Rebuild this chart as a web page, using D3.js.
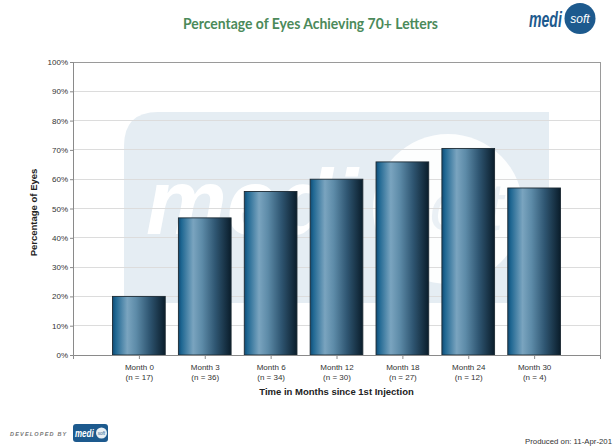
<!DOCTYPE html>
<html>
<head>
<meta charset="utf-8">
<script src="https://cdn.jsdelivr.net/npm/d3@7"></script>
<style>
  html, body { margin: 0; padding: 0; background: #fff; }
  svg { display: block; }
</style>
</head>
<body>
<svg id="chart" width="614" height="446"></svg>
<script>
// Data
const months = ["Month 0", "Month 3", "Month 6", "Month 12", "Month 18", "Month 24", "Month 30"];
const counts = [17, 36, 34, 30, 27, 12, 4];
const percentages = [20, 46.8, 55.8, 60, 65.9, 70.5, 57];
const yTicks = [0, 10, 20, 30, 40, 50, 60, 70, 80, 90, 100];

const titleText = "Percentage of Eyes Achieving 70+ Letters";
const yTitle = "Percentage of Eyes";
const xTitle = "Time in Months since 1st Injection";
const producedText = "Produced on: 11-Apr-201";

const svg = d3.select("#chart");
const plot = { left: 73, right: 600, top: 62, bottom: 355 };
const sans = "'Liberation Sans', Arial, sans-serif";

const x = d3.scalePoint().domain(months).range([plot.left, plot.right]).padding(1);
const y = d3.scaleLinear().domain([0, 100]).range([plot.bottom, plot.top]);
const barW = x.step() * 0.8;

// Gradient for the cylinder-like bars
const defs = svg.append("defs");
const grad = defs.append("linearGradient").attr("id", "barGrad")
  .attr("x1", "0%").attr("x2", "100%").attr("y1", "0%").attr("y2", "0%");
[
  [0, "#0f4a74"], [0.06, "#1f6792"], [0.28, "#7aa4bf"], [0.45, "#5d8ba8"],
  [0.7, "#2f5672"], [1, "#0a1d2b"]
].forEach(([o, c]) => grad.append("stop").attr("offset", o).attr("stop-color", c));

// Title
svg.append("text")
  .attr("x", 183).attr("y", 28.5)
  .attr("font-family", "Lato, 'Open Sans', sans-serif")
  .attr("font-weight", "bold")
  .attr("font-size", 15)
  .attr("textLength", 255).attr("lengthAdjust", "spacingAndGlyphs")
  .attr("fill", "#4b8a5a")
  .text(titleText);

// Logo: "medi" squeezed horizontally, then a filled circle holding "soft"
function logo(g, o) {
  g.append("g")
    .attr("transform", `translate(${o.x},${o.y}) scale(${o.sx},1)`)
    .append("text")
    .attr("x", 0).attr("y", 0)
    .attr("font-family", sans).attr("font-weight", "bold").attr("font-style", "italic")
    .attr("font-size", o.size).attr("fill", o.textFill)
    .text("medi");
  g.append("circle")
    .attr("cx", o.cx).attr("cy", o.cy).attr("r", o.r)
    .attr("fill", o.circleFill).attr("opacity", o.circleOpacity || 1);
  g.append("text")
    .attr("x", o.cx).attr("y", o.cy + o.r * 0.28)
    .attr("text-anchor", "middle")
    .attr("font-family", sans).attr("font-style", "italic")
    .attr("font-size", o.softSize).attr("fill", o.softFill)
    .text("soft");
}

// Top-right logo
logo(svg.append("g"), {
  x: 529, y: 27, size: 22, sx: 0.64, textFill: "#1d5a8e",
  cx: 580, cy: 18.5, r: 15.5, circleFill: "#1d5a8e", softFill: "#ffffff", softSize: 12
});

// Watermark behind the plot
const wm = svg.append("g");
const wx0 = 124, wx1 = 549, wy0 = 112, wy1 = 303, rad = 34;
wm.append("path")
  .attr("d", `M${wx0},${wy1} L${wx0},${wy0 + rad} Q${wx0},${wy0} ${wx0 + rad},${wy0} L${wx1},${wy0} L${wx1},${wy1} Z`)
  .attr("fill", "#e5edf3");
wm.append("text")
  .attr("x", 146).attr("y", 234)
  .attr("font-family", sans).attr("font-weight", "bold").attr("font-style", "italic")
  .attr("font-size", 92).attr("fill", "#ffffff")
  .attr("textLength", 212).attr("lengthAdjust", "spacingAndGlyphs")
  .text("medi");
wm.append("circle").attr("cx", 448).attr("cy", 209).attr("r", 75).attr("fill", "#ffffff").attr("opacity", 0.9);
wm.append("text")
  .attr("x", 450).attr("y", 230)
  .attr("text-anchor", "middle")
  .attr("font-family", sans).attr("font-style", "italic")
  .attr("font-size", 66).attr("fill", "#eaf0f5")
  .text("soft");

// Gridlines
svg.append("g").selectAll("line").data(yTicks.slice(1)).join("line")
  .attr("x1", plot.left).attr("x2", plot.right)
  .attr("y1", d => y(d)).attr("y2", d => y(d))
  .attr("stroke", "#dcdcdc").attr("stroke-width", 1)
  .attr("shape-rendering", "crispEdges");

// Bars
svg.append("g").selectAll("rect").data(months).join("rect")
  .attr("x", d => x(d) - barW / 2)
  .attr("y", (d, i) => y(percentages[i]))
  .attr("width", barW)
  .attr("height", (d, i) => y(0) - y(percentages[i]))
  .attr("fill", "url(#barGrad)")
  .attr("stroke", "#1c2a33").attr("stroke-width", 0.9);

// Plot frame (top and right)
svg.append("path")
  .attr("d", `M${plot.left},${plot.top} H${plot.right} V${plot.bottom + 4}`)
  .attr("fill", "none").attr("stroke", "#9a9a9a").attr("stroke-width", 1)
  .attr("shape-rendering", "crispEdges");

// Y axis
const yAxis = svg.append("g")
  .attr("transform", `translate(${plot.left},0)`)
  .call(d3.axisLeft(y).tickValues(yTicks).tickSize(3).tickPadding(2).tickFormat(d => d + "%"));
yAxis.select(".domain").attr("stroke", "#8a8a8a");
yAxis.selectAll(".tick line").attr("stroke", "#8a8a8a");
yAxis.selectAll("text").attr("font-family", sans).attr("font-size", 8).attr("fill", "#333");

// X axis
const xAxis = svg.append("g")
  .attr("transform", `translate(0,${plot.bottom})`)
  .call(d3.axisBottom(x).tickSize(4).tickSizeOuter(4).tickFormat(""));
xAxis.select(".domain").attr("stroke", "#8a8a8a");
xAxis.selectAll(".tick line").attr("stroke", "#8a8a8a");
xAxis.selectAll(".tick").each(function (d, i) {
  const t = d3.select(this).append("text")
    .attr("text-anchor", "middle")
    .attr("font-family", sans).attr("font-size", 8).attr("fill", "#333");
  t.append("tspan").attr("x", 0).attr("y", 15).text(d);
  t.append("tspan").attr("x", 0).attr("y", 25).text(`(n = ${counts[i]})`);
});

// Axis titles
svg.append("text")
  .attr("transform", `translate(37,${(plot.top + plot.bottom) / 2 + 4}) rotate(-90)`)
  .attr("text-anchor", "middle")
  .attr("font-family", sans).attr("font-weight", "bold").attr("font-size", 9.5).attr("fill", "#222")
  .text(yTitle);
svg.append("text")
  .attr("x", (plot.left + plot.right) / 2).attr("y", 395)
  .attr("text-anchor", "middle")
  .attr("font-family", sans).attr("font-weight", "bold").attr("font-size", 9.5).attr("fill", "#222")
  .text(xTitle);

// Footer
svg.append("text")
  .attr("x", 10).attr("y", 436)
  .attr("font-family", sans).attr("font-weight", "bold").attr("font-style", "italic")
  .attr("font-size", 5.5).attr("letter-spacing", 1.2).attr("fill", "#777")
  .text("DEVELOPED BY");
const small = svg.append("g");
small.append("rect").attr("x", 73).attr("y", 424).attr("width", 35).attr("height", 18).attr("rx", 3)
  .attr("fill", "#1d5a8e");
small.append("g").attr("transform", "translate(75,437) scale(0.8,1)")
  .append("text").attr("x", 0).attr("y", 0)
  .attr("font-family", sans).attr("font-weight", "bold").attr("font-style", "italic")
  .attr("font-size", 10).attr("fill", "#ffffff").text("medi");
small.append("circle").attr("cx", 101.5).attr("cy", 433).attr("r", 5.5).attr("fill", "#ffffff").attr("opacity", 0.9);
small.append("text").attr("x", 101.5).attr("y", 435).attr("text-anchor", "middle")
  .attr("font-family", sans).attr("font-style", "italic").attr("font-size", 4.5).attr("fill", "#1d5a8e").text("soft");

svg.append("text")
  .attr("x", 612).attr("y", 444)
  .attr("text-anchor", "end")
  .attr("font-family", sans).attr("font-size", 7.8).attr("fill", "#333")
  .text(producedText);
</script>
</body>
</html>
